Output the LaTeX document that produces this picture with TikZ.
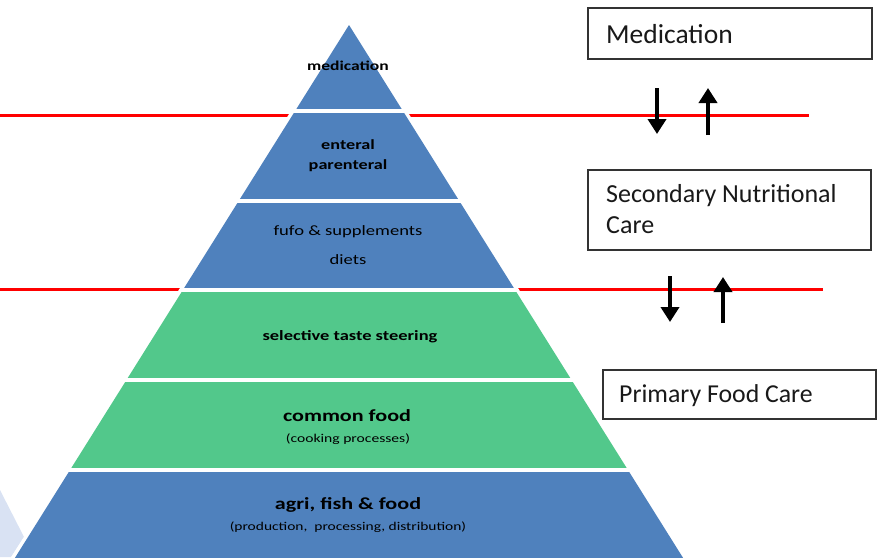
\documentclass[tikz,border=0pt]{standalone}
\usepackage{fontspec}
\usepackage{graphicx}
\setmainfont{Carlito}
\usetikzlibrary{arrows.meta}
\definecolor{pblue}{HTML}{4F81BD}
\definecolor{pgreen}{HTML}{52C88B}
\definecolor{redline}{HTML}{FF0000}
\definecolor{faint}{HTML}{D9E2F3}
\newcommand{\wtext}[1]{\scalebox{1.3}[1]{#1}}
\tikzset{
  sep/.style={redline, line width=3pt},
  lbl/.style={inner sep=0pt, text=black, align=center},
  carebox/.style={draw=black!80, line width=1.3pt, fill=white, inner sep=0pt},
  caretext/.style={inner sep=0pt, anchor=base west, text=black!90, align=left},
  flow/.style={line width=4.5pt, -{Triangle[width=18pt,length=15pt]}},
}
\begin{document}
\begin{tikzpicture}[x=1pt,y=-1pt]
\useasboundingbox (0,0) rectangle (877,557);
% faint shape at the lower left
\fill[faint] (0,490) -- (24,537) -- (11,557) -- (0,557) -- cycle;
% red separators
\coordinate (r1l) at (0,115);
\coordinate (r1r) at (809,115);
\coordinate (r2l) at (0,289);
\coordinate (r2r) at (823,289);
\draw[sep] (r1l) -- (r1r);
\draw[sep] (r2l) -- (r2r);
% white halo of the pyramid
\fill[white, draw=white, line width=7pt, line join=miter] (349,25) -- (-24,620) -- (722,620) -- cycle;
% pyramid layers
\begin{scope}
\clip (349,25) -- (-24,620) -- (722,620) -- cycle;
\fill[pblue]  (0,20)    rectangle (877,109);
\fill[pblue]  (0,113)   rectangle (877,198.5);
\fill[pblue]  (0,202.5) rectangle (877,287.5);
\fill[pgreen] (0,291.5) rectangle (877,377.5);
\fill[pgreen] (0,381.5) rectangle (877,468);
\fill[pblue]  (0,472)   rectangle (877,620);
\end{scope}
% layer texts
\node[lbl, font=\fontsize{13.5}{15}\selectfont\bfseries] (tmed) at (348,66) {\wtext{medication}};
\node[lbl, font=\fontsize{14}{20}\selectfont\bfseries] (tent) at (348,156) {\wtext{enteral}\\\wtext{parenteral}};
\node[lbl, font=\fontsize{14.3}{16}\selectfont] (tfufo) at (348,232) {\wtext{fufo \& supplements}};
\node[lbl, font=\fontsize{14.3}{16}\selectfont] (tdiet) at (348,260) {\wtext{diets}};
\node[lbl, font=\fontsize{14.2}{16}\selectfont\bfseries] (tsel) at (350,337) {\wtext{selective taste steering}};
\node[lbl, font=\fontsize{17}{19}\selectfont\bfseries] (tcom) at (347,416) {\wtext{common food}};
\node[lbl, font=\fontsize{12}{14}\selectfont] (tcook) at (348,439) {\wtext{(cooking processes)}};
\node[lbl, font=\fontsize{17}{19}\selectfont\bfseries] (tagri) at (348,505) {\wtext{agri, fish \& food}};
\node[lbl, font=\fontsize{11.9}{14}\selectfont] (tprod) at (348,527) {\wtext{(production,\ \ processing, distribution)}};
% right-hand boxes
\draw[carebox] (588,8) rectangle (872,59);
\node[caretext, font=\fontsize{27.5}{32}\selectfont] (bmed) at (606,43) {Medication};
\draw[carebox] (588,170) rectangle (871,250);
\node[caretext, font=\fontsize{26}{31.5}\selectfont] (bsec) at (606,202) {Secondary Nutritional};
\node[caretext, font=\fontsize{26}{31.5}\selectfont] (bsec2) at (606,233.5) {Care};
\draw[carebox] (603,370) rectangle (876,419);
\node[caretext, font=\fontsize{25.8}{30}\selectfont] (bpri) at (619,402) {Primary Food Care};
% arrows
\coordinate (a1s) at (657,88);  \coordinate (a1e) at (657,134);
\coordinate (a2s) at (708,135); \coordinate (a2e) at (708,88);
\coordinate (a3s) at (670,276); \coordinate (a3e) at (670,322);
\coordinate (a4s) at (723,323); \coordinate (a4e) at (723,277);
\draw[flow] (a1s) -- (a1e);
\draw[flow] (a2s) -- (a2e);
\draw[flow] (a3s) -- (a3e);
\draw[flow] (a4s) -- (a4e);
\end{tikzpicture}
\end{document}
